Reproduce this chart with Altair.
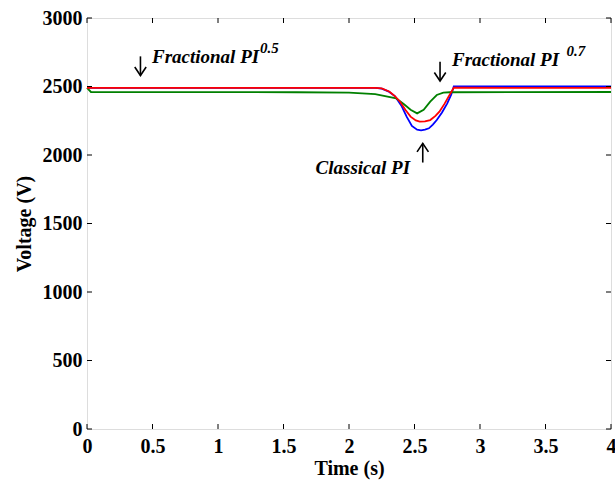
import altair as alt
import pandas as pd

# Classical PI (blue)
t_blue = [0, 2.20, 2.25, 2.30, 2.35, 2.40, 2.44, 2.48, 2.52, 2.55, 2.58, 2.61, 2.64, 2.67, 2.71, 2.75, 2.78, 2.80, 4.0]
v_blue = [2490, 2490, 2485, 2465, 2430, 2360, 2280, 2212, 2185, 2180, 2185, 2195, 2222, 2255, 2310, 2377, 2440, 2500, 2500]
# Fractional PI^0.5 (red)
t_red = [0, 2.20, 2.25, 2.31, 2.35, 2.39, 2.43, 2.47, 2.51, 2.54, 2.58, 2.62, 2.66, 2.69, 2.73, 2.76, 2.80, 4.0]
v_red = [2490, 2490, 2486, 2462, 2430, 2389, 2330, 2280, 2252, 2243, 2245, 2255, 2285, 2316, 2375, 2426, 2491, 2490]
# Fractional PI^0.7 (green)
t_green = [0, 0.03, 1.6, 2.0, 2.2, 2.36, 2.42, 2.47, 2.52, 2.57, 2.62, 2.67, 2.72, 2.77, 4.0]
v_green = [2490, 2460, 2458, 2455, 2445, 2414, 2370, 2330, 2304, 2330, 2390, 2438, 2455, 2458, 2460]

x_ticks = [0, 0.5, 1, 1.5, 2, 2.5, 3, 3.5, 4]
y_ticks = [0, 500, 1000, 1500, 2000, 2500, 3000]

# annotation texts: text, t, v, size, align
ann_text = ["Fractional PI", "0.5", "Fractional PI", "0.7", "Classical PI"]
ann_t = [0.496, 1.32, 2.786, 3.66, 2.466]
ann_v = [2715, 2781, 2693, 2759, 1905]
ann_size = [19, 15, 19, 15, 19]
ann_align = ["left", "left", "left", "left", "right"]

# arrows: x position, tail value, tip value, direction
arr_t = [0.408, 2.695, 2.563]
arr_tail = [2720, 2680, 1945]
arr_tip = [2580, 2540, 2085]
arr_dir = ["down", "down", "up"]

W, H = 524, 411
FONT = "Liberation Serif"

df = pd.concat([
    pd.DataFrame({"t": t_blue, "v": v_blue, "s": "Classical PI", "o": 0}),
    pd.DataFrame({"t": t_green, "v": v_green, "s": "Fractional PI 0.7", "o": 1}),
    pd.DataFrame({"t": t_red, "v": v_red, "s": "Fractional PI 0.5", "o": 2}),
])

xs = alt.Scale(domain=[0, 4], nice=False, zero=False)
ys = alt.Scale(domain=[0, 3000], nice=False)

xaxis = alt.Axis(values=x_ticks, ticks=False, domain=False, grid=False, labelPadding=7,
                 labelFont=FONT, labelFontSize=20, labelFontWeight="bold", labelColor="black",
                 format="~g",
                 title="Time (s)", titleFont=FONT, titleFontSize=20, titleFontWeight="bold",
                 titleColor="black", titlePadding=2, labelFlush=False)
yaxis = alt.Axis(values=y_ticks, ticks=False, domain=False, grid=False, labelPadding=5,
                 labelFont=FONT, labelFontSize=20, labelFontWeight="bold", labelColor="black",
                 format="d",
                 title="Voltage (V)", titleFont=FONT, titleFontSize=20, titleFontWeight="bold",
                 titleColor="black", titlePadding=8, labelFlush=False)

lines = alt.Chart(df).mark_line(strokeWidth=1.8).encode(
    x=alt.X("t:Q", scale=xs, axis=xaxis),
    y=alt.Y("v:Q", scale=ys, axis=yaxis),
    color=alt.Color("s:N", scale=alt.Scale(
        domain=["Classical PI", "Fractional PI 0.7", "Fractional PI 0.5"],
        range=["#0000ff", "#008000", "#ff0000"]), legend=None),
    detail="s:N",
    order="o:Q",
)

xt = pd.DataFrame({"t": x_ticks})
yt = pd.DataFrame({"v": y_ticks})
tick_style = dict(color="black", strokeWidth=1)
xb = alt.Chart(xt).mark_rule(**tick_style).encode(x=alt.X("t:Q", scale=xs), y=alt.value(H), y2=alt.value(H - 5))
xtp = alt.Chart(xt).mark_rule(**tick_style).encode(x=alt.X("t:Q", scale=xs), y=alt.value(0), y2=alt.value(5))
yl = alt.Chart(yt).mark_rule(**tick_style).encode(y=alt.Y("v:Q", scale=ys), x=alt.value(0), x2=alt.value(5))
yr = alt.Chart(yt).mark_rule(**tick_style).encode(y=alt.Y("v:Q", scale=ys), x=alt.value(W), x2=alt.value(W - 5))

ann = pd.DataFrame({"text": ann_text, "t": ann_t, "v": ann_v, "size": ann_size, "align": ann_align})
texts = []
for al in ["left", "right"]:
    sub = ann[ann["align"] == al]
    texts.append(alt.Chart(sub).mark_text(font=FONT, fontWeight="bold", fontStyle="italic",
                                          align=al, baseline="middle", color="black").encode(
        x=alt.X("t:Q", scale=xs), y=alt.Y("v:Q", scale=ys), text="text:N",
        size=alt.Size("size:Q", scale=None, legend=None)))

arr = pd.DataFrame({"t": arr_t, "tail": arr_tail, "tip": arr_tip, "dir": arr_dir})
shafts = alt.Chart(arr).mark_rule(color="black", strokeWidth=1.6).encode(
    x=alt.X("t:Q", scale=xs), y=alt.Y("tail:Q", scale=ys), y2="tip:Q")
heads = []
for d, path in [("down", "M -1 -1.5 L 0 0 L 1 -1.5"), ("up", "M -1 1.5 L 0 0 L 1 1.5")]:
    heads.append(alt.Chart(arr[arr["dir"] == d]).mark_point(
        shape=path, filled=False, color="black", strokeWidth=1.6, size=130, opacity=1).encode(
        x=alt.X("t:Q", scale=xs), y=alt.Y("tip:Q", scale=ys)))

chart = alt.layer(lines, xb, xtp, yl, yr, *texts, shafts, *heads).properties(
    width=W, height=H,
    padding={"left": 87, "top": 18, "right": 4, "bottom": 56},
    autosize=alt.AutoSizeParams(type="none"),
).configure_view(stroke="black", strokeWidth=1.5).configure(background="white")

chart.save("out.html", embed_options={"renderer": "svg", "actions": False})
